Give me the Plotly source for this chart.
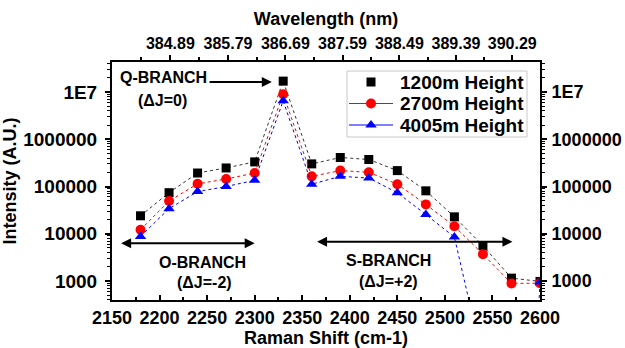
import math
import plotly.graph_objects as go

# ---- data ----
raman_shift = [2180, 2210, 2240, 2270, 2300, 2330, 2360, 2390, 2420, 2450, 2480, 2510, 2540, 2570, 2600]
h1200 = [24000, 74000, 193000, 247000, 332000, 1.7e7, 301000, 411000, 373000, 217000, 81000, 22800, 5600, 1150, 980]
h2700 = [12200, 49300, 114000, 144000, 193000, 9.0e6, 164000, 217000, 200000, 112000, 41800, 14400, 3700, 890, 900]
h4005 = [8800, 34000, 78000, 100000, 135000, 6.5e6, 112000, 164000, 151000, 74000, 25500, 8500, 20, 1e-9, 950]
series_names = ["1200m Height", "2700m Height", "4005m Height"]
wavelength_labels = ["384.89", "385.79", "386.69", "387.59", "388.49", "389.39", "390.29"]
y_tick_vals = [1e3, 1e4, 1e5, 1e6, 1e7]
y_tick_text = ["1000", "10000", "100000", "1000000", "1E7"]
LASER_NM = 354.7

def nm_to_shift(nm):
    return 1e7 / LASER_NM - 1e7 / nm

top_vals = [nm_to_shift(float(w)) for w in wavelength_labels]
top_minor = [nm_to_shift(float(w) + d) for w in wavelength_labels for d in (-0.45, 0.45)]
top_minor = sorted(set(round(v, 3) for v in top_minor))

FONT = "Arial, Liberation Sans, sans-serif"
XR = [2150, 2600]
YR = [2.598, 7.635]
W, H = 625, 348
ML, MR, MT, MB = 112, 85, 62, 48

styles = [
    dict(symbol="square", size=9, color="black", line="#333333", legend_line=False),
    dict(symbol="circle", size=10, color="red", line="red", legend_line=True),
    dict(symbol="triangle-up", size=10, color="blue", line="blue", legend_line=True),
]

fig = go.Figure()
for vals, st in zip([h1200, h2700, h4005], styles):
    fig.add_trace(go.Scatter(x=raman_shift, y=vals, mode="lines+markers", showlegend=False,
                             line=dict(color=st["line"], width=1, dash="dot"),
                             marker=dict(symbol=st["symbol"], size=st["size"], color=st["color"])))
fig.add_trace(go.Scatter(x=[None], y=[None], xaxis="x2", yaxis="y2", showlegend=False))

# ---- manual legend (pixel frame overlay axes) ----
leg_left, leg_top, row_h = 347, 71, 21.5
leg_rows = [leg_top + 11 + i * row_h for i in range(3)]
for i, st in enumerate(styles):
    yy = leg_rows[i]
    if st["legend_line"]:
        fig.add_trace(go.Scatter(x=[349, 393], y=[yy, yy], mode="lines", xaxis="x3", yaxis="y3",
                                 showlegend=False, hoverinfo="skip",
                                 line=dict(color=st["line"], width=1)))
    fig.add_trace(go.Scatter(x=[371], y=[yy], mode="markers", xaxis="x3", yaxis="y3",
                             showlegend=False, hoverinfo="skip",
                             marker=dict(symbol=st["symbol"], size=st["size"], color=st["color"])))

tickfont = dict(family=FONT, size=18, color="black", weight="bold")
titlefont = dict(family=FONT, size=18, color="black", weight="bold")
common = dict(showline=True, linewidth=2, linecolor="black", showgrid=False, zeroline=False, automargin=False)
fig.update_layout(
    width=W, height=H,
    margin=dict(l=ML, r=MR, t=MT, b=MB),
    paper_bgcolor="white", plot_bgcolor="white",
    font=dict(family=FONT, color="black"),
    showlegend=False,
    xaxis=dict(range=XR, tickmode="array", tickvals=list(range(2150, 2601, 50)),
               ticks="inside", ticklen=5, tickwidth=2, tickcolor="black",
               minor=dict(tickvals=list(range(2175, 2600, 50)), ticks="inside", ticklen=3, tickwidth=1.5, tickcolor="black"),
               tickfont=tickfont,
               title=dict(text="Raman Shift (cm-1)", font=titlefont, standoff=8), **common),
    xaxis2=dict(range=XR, overlaying="x", side="top", tickmode="array", tickvals=top_vals, ticktext=wavelength_labels,
                ticks="outside", ticklen=5, tickwidth=2, tickcolor="black", ticklabelstandoff=0,
                minor=dict(tickvals=top_minor, ticks="outside", ticklen=3, tickwidth=1.5, tickcolor="black"),
                tickfont=dict(family=FONT, size=16, color="black", weight="bold"),
                title=dict(text="Wavelength (nm)", font=titlefont, standoff=4), **common),
    yaxis=dict(type="log", range=YR, tickmode="array", tickvals=y_tick_vals, ticktext=y_tick_text,
               ticks="outside", ticklen=5, tickwidth=2, tickcolor="black", ticklabelstandoff=4,
               minor=dict(ticks="outside", ticklen=3, tickwidth=1, tickcolor="black", dtick="D1"),
               tickfont=dict(family=FONT, size=19, color="black", weight="bold"),
               title=dict(text="Intensity (A.U.)", font=titlefont, standoff=2), **common),
    yaxis2=dict(type="log", range=YR, overlaying="y", side="right", tickmode="array",
                tickvals=y_tick_vals, ticktext=y_tick_text,
                ticks="outside", ticklen=5, tickwidth=2, tickcolor="black", ticklabelstandoff=1,
                minor=dict(ticks="outside", ticklen=3, tickwidth=1, tickcolor="black", dtick="D1"),
                tickfont=dict(family=FONT, size=18, color="black", weight="bold"), **common),
    xaxis3=dict(range=[ML, W - MR], overlaying="x", visible=False, fixedrange=True),
    yaxis3=dict(range=[H - MB, MT], overlaying="y", visible=False, fixedrange=True),
)

lbl = dict(family=FONT, size=16, color="black", weight="bold")
ann = [
    dict(x=2204, y=7.30, text="Q-BRANCH", showarrow=False, font=lbl),
    dict(x=2203, y=6.83, text="(ΔJ=0)", showarrow=False, font=lbl),
    dict(x=2318, y=7.21, ax=2251, ay=7.21, axref="x", ayref="y", text="", showarrow=True,
         arrowhead=2, arrowsize=1, arrowwidth=2, arrowcolor="black"),
    dict(x=2300, y=3.80, ax=2158, ay=3.80, axref="x", ayref="y", text="", showarrow=True,
         arrowhead=2, arrowside="end+start", arrowsize=1, arrowwidth=2, arrowcolor="black"),
    dict(x=2245, y=3.40, text="O-BRANCH", showarrow=False, font=lbl),
    dict(x=2247, y=2.96, text="(ΔJ=-2)", showarrow=False, font=lbl),
    dict(x=2571, y=3.83, ax=2364, ay=3.83, axref="x", ayref="y", text="", showarrow=True,
         arrowhead=2, arrowside="end+start", arrowsize=1, arrowwidth=2, arrowcolor="black"),
    dict(x=2441, y=3.44, text="S-BRANCH", showarrow=False, font=lbl),
    dict(x=2441, y=2.98, text="(ΔJ=+2)", showarrow=False, font=lbl),
]
for a in ann:
    a.setdefault("xref", "x")
    a.setdefault("yref", "y")
leg_font = dict(family=FONT, size=19, color="black", weight="bold")
for i, name in enumerate(series_names):
    ann.append(dict(x=398, y=leg_rows[i], xref="x3", yref="y3", text=name, showarrow=False,
                    xanchor="left", yanchor="middle", font=leg_font))
fig.update_layout(annotations=ann)

fig.add_shape(type="rect", xref="x3", yref="y3", x0=leg_left, x1=527, y0=leg_top, y1=leg_top + 66,
              line=dict(color="#c8c8c8", width=1), fillcolor="rgba(0,0,0,0)", layer="below")

fig.write_html("out.html", config={"displayModeBar": False},
               post_script="document.body.style.margin='0px';")
